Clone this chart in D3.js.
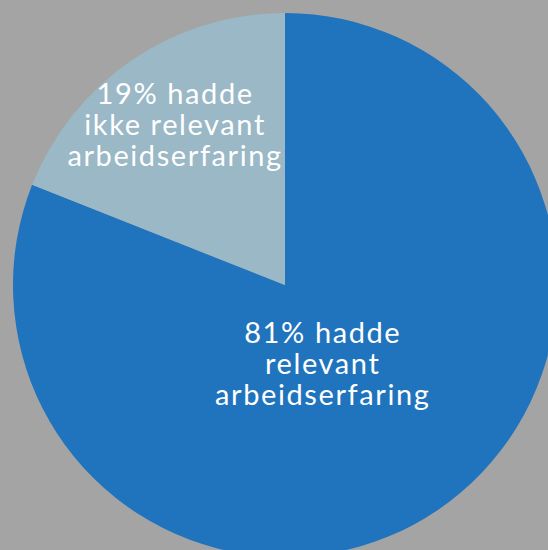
<!DOCTYPE html>
<html>
<head>
<meta charset="utf-8">
<script src="https://cdn.jsdelivr.net/npm/d3@7"></script>
<style>
  html, body { margin: 0; padding: 0; background: #a4a4a4; }
  svg { display: block; }
</style>
</head>
<body>
<svg id="chart" width="548" height="550"></svg>
<script>
const categories = ["hadde relevant arbeidserfaring", "hadde ikke relevant arbeidserfaring"];
const values = [81, 19];
const labelLines = [
  ["81% hadde", "relevant", "arbeidserfaring"],
  ["19% hadde", "ikke relevant", "arbeidserfaring"]
];
const colors = ["#1f74bd", "#9ab8c6"];

const W = 548, H = 550;
const cx = 285, cy = 285, R = 272;

const svg = d3.select("#chart");
svg.append("rect").attr("width", W).attr("height", H).attr("fill", "#a4a4a4");

const g = svg.append("g").attr("transform", `translate(${cx},${cy})`);

const pie = d3.pie().sort(null).value(d => d)(values);
const arc = d3.arc().innerRadius(0).outerRadius(R);

g.selectAll("path.slice")
  .data(pie)
  .join("path")
  .attr("class", "slice")
  .attr("d", arc)
  .attr("fill", (d, i) => colors[i]);

// label anchors: centroid of an arc with slice-specific radius
const labelRadius = [92, 192];
const lineH = 31;
pie.forEach((d, i) => {
  const la = d3.arc().innerRadius(labelRadius[i]).outerRadius(labelRadius[i]);
  const [x, y] = la.centroid(d);
  const dx = i === 0 ? -14 : -2;
  const dy = i === 0 ? 13 : 9;
  const t = g.append("text")
    .attr("x", x + dx)
    .attr("y", y)
    .attr("text-anchor", "middle")
    .attr("fill", "#ffffff")
    .style("font-family", "Lato, 'Open Sans', sans-serif")
    .style("font-size", "29px")
    .style("letter-spacing", "1.6px");
  const lines = labelLines[i];
  lines.forEach((s, k) => {
    t.append("tspan")
      .attr("x", x + dx)
      .attr("y", y + (k - (lines.length - 1) / 2) * lineH + dy)
      .text(s);
  });
});
</script>
</body>
</html>
